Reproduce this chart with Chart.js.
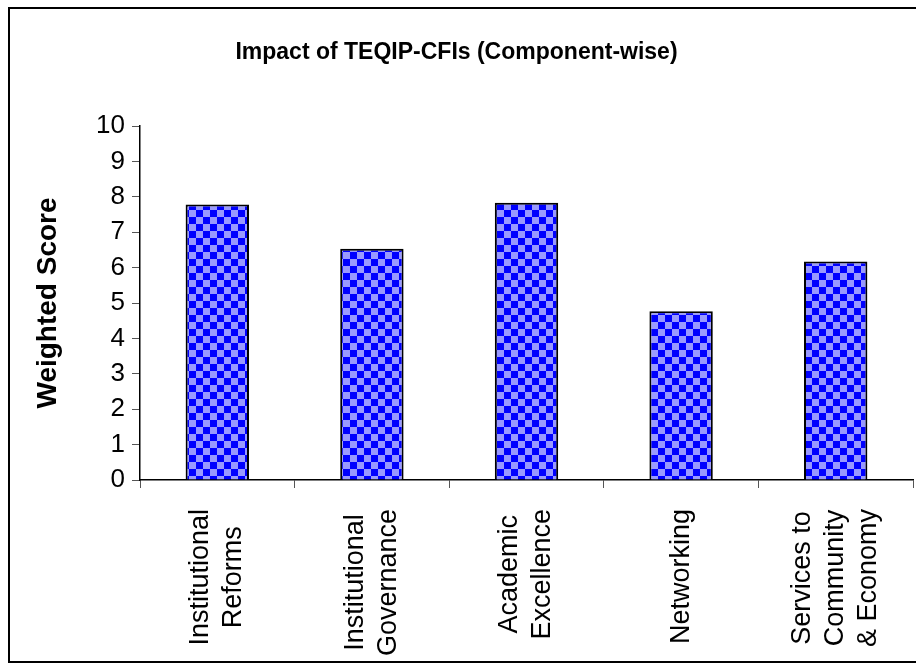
<!DOCTYPE html>
<html>
<head>
<meta charset="utf-8">
<script src="https://cdn.jsdelivr.net/npm/chart.js@4"></script>
<style>
  html, body { margin: 0; padding: 0; background: #fff; }
  canvas { display: block; }
</style>
</head>
<body>
<canvas id="chart" width="916" height="663"></canvas>
<script>
const categories = [
  ['Institutional', 'Reforms'],
  ['Institutional', 'Governance'],
  ['Academic', 'Excellence'],
  ['Networking'],
  ['Services to', 'Community', '& Economy']
]
const scores = [7.78, 6.53, 7.83, 4.77, 6.17]
const yTicks = [0, 1, 2, 3, 4, 5, 6, 7, 8, 9, 10]

const FONT = '"Liberation Sans", Arial, sans-serif'

// small checkerboard fill like the old excel pattern
const makeChecker = () => {
  const size = 7
  const c = document.createElement('canvas')
  c.width = size * 2
  c.height = size * 2
  const g = c.getContext('2d')
  g.fillStyle = '#9999ff'
  g.fillRect(0, 0, size * 2, size * 2)
  g.fillStyle = '#0000ff'
  g.fillRect(0, 0, size, size)
  g.fillRect(size, size, size, size)
  return g.createPattern(c, 'repeat')
}

// white page + frame around the whole chart
const framePlugin = {
  id: 'frame',
  beforeDraw(chart) {
    const ctx = chart.ctx
    ctx.save()
    ctx.fillStyle = '#fff'
    ctx.fillRect(0, 0, chart.width, chart.height)
    ctx.strokeStyle = '#000'
    ctx.lineWidth = 2
    ctx.strokeRect(9, 8, chart.width + 20, chart.height - 9)
    ctx.restore()
  }
}

// rotated category labels, lines centred on each other
const xLabelPlugin = {
  id: 'xLabels',
  afterDraw(chart) {
    const ctx = chart.ctx
    const xScale = chart.scales.x
    const lineHeight = 33
    const top = chart.chartArea.bottom + 29
    ctx.save()
    ctx.font = '27px ' + FONT
    ctx.fillStyle = '#000'
    ctx.textAlign = 'center'
    ctx.textBaseline = 'middle'
    categories.forEach((lines, i) => {
      const x = xScale.getPixelForValue(i)
      const w = Math.max(...lines.map((l) => ctx.measureText(l).width))
      ctx.save()
      ctx.translate(x, top + w / 2)
      ctx.rotate(-Math.PI / 2)
      lines.forEach((line, j) => {
        ctx.fillText(line, 0, (j - (lines.length - 1) / 2) * lineHeight)
      })
      ctx.restore()
    })
    ctx.restore()
  }
}

const ctx = document.getElementById('chart').getContext('2d')

new Chart(ctx, {
  type: 'bar',
  data: {
    labels: categories.map((c) => c.join(' ')),
    datasets: [{
      data: scores,
      backgroundColor: makeChecker(),
      borderColor: '#000',
      borderWidth: 2,
      borderSkipped: 'start',
      categoryPercentage: 1,
      barPercentage: 0.41
    }]
  },
  options: {
    responsive: false,
    animation: false,
    layout: { padding: { left: 0, right: 3, top: 0, bottom: 0 } },
    plugins: {
      legend: { display: false },
      tooltip: { enabled: false },
      title: {
        display: true,
        text: 'Impact of TEQIP-CFIs (Component-wise)',
        color: '#000',
        font: { family: FONT, size: 23, weight: 'bold', lineHeight: 1.2 },
        padding: { top: 39, bottom: 59.4 }
      }
    },
    scales: {
      x: {
        offset: true,
        grid: {
          offset: true,
          drawOnChartArea: false,
          drawTicks: true,
          tickLength: 8,
          tickColor: '#555'
        },
        border: { color: '#000', width: 1.5 },
        ticks: { display: false },
        afterFit(scale) { scale.height = 183 }
      },
      y: {
        min: yTicks[0],
        max: yTicks[yTicks.length - 1],
        afterBuildTicks(scale) {
          scale.ticks = yTicks.map((v) => ({ value: v }))
        },
        grid: {
          drawOnChartArea: false,
          drawTicks: true,
          tickLength: 8,
          tickColor: '#555'
        },
        border: { color: '#000', width: 1.5 },
        ticks: {
          color: '#000',
          padding: 7,
          font: { family: FONT, size: 26 }
        },
        title: {
          display: true,
          text: 'Weighted Score',
          color: '#000',
          font: { family: FONT, size: 28, weight: 'bold', lineHeight: 1.2 },
          padding: { top: 31, bottom: 0 }
        },
        afterFit(scale) { scale.width = 140 }
      }
    }
  },
  plugins: [framePlugin, xLabelPlugin]
})
</script>
</body>
</html>
